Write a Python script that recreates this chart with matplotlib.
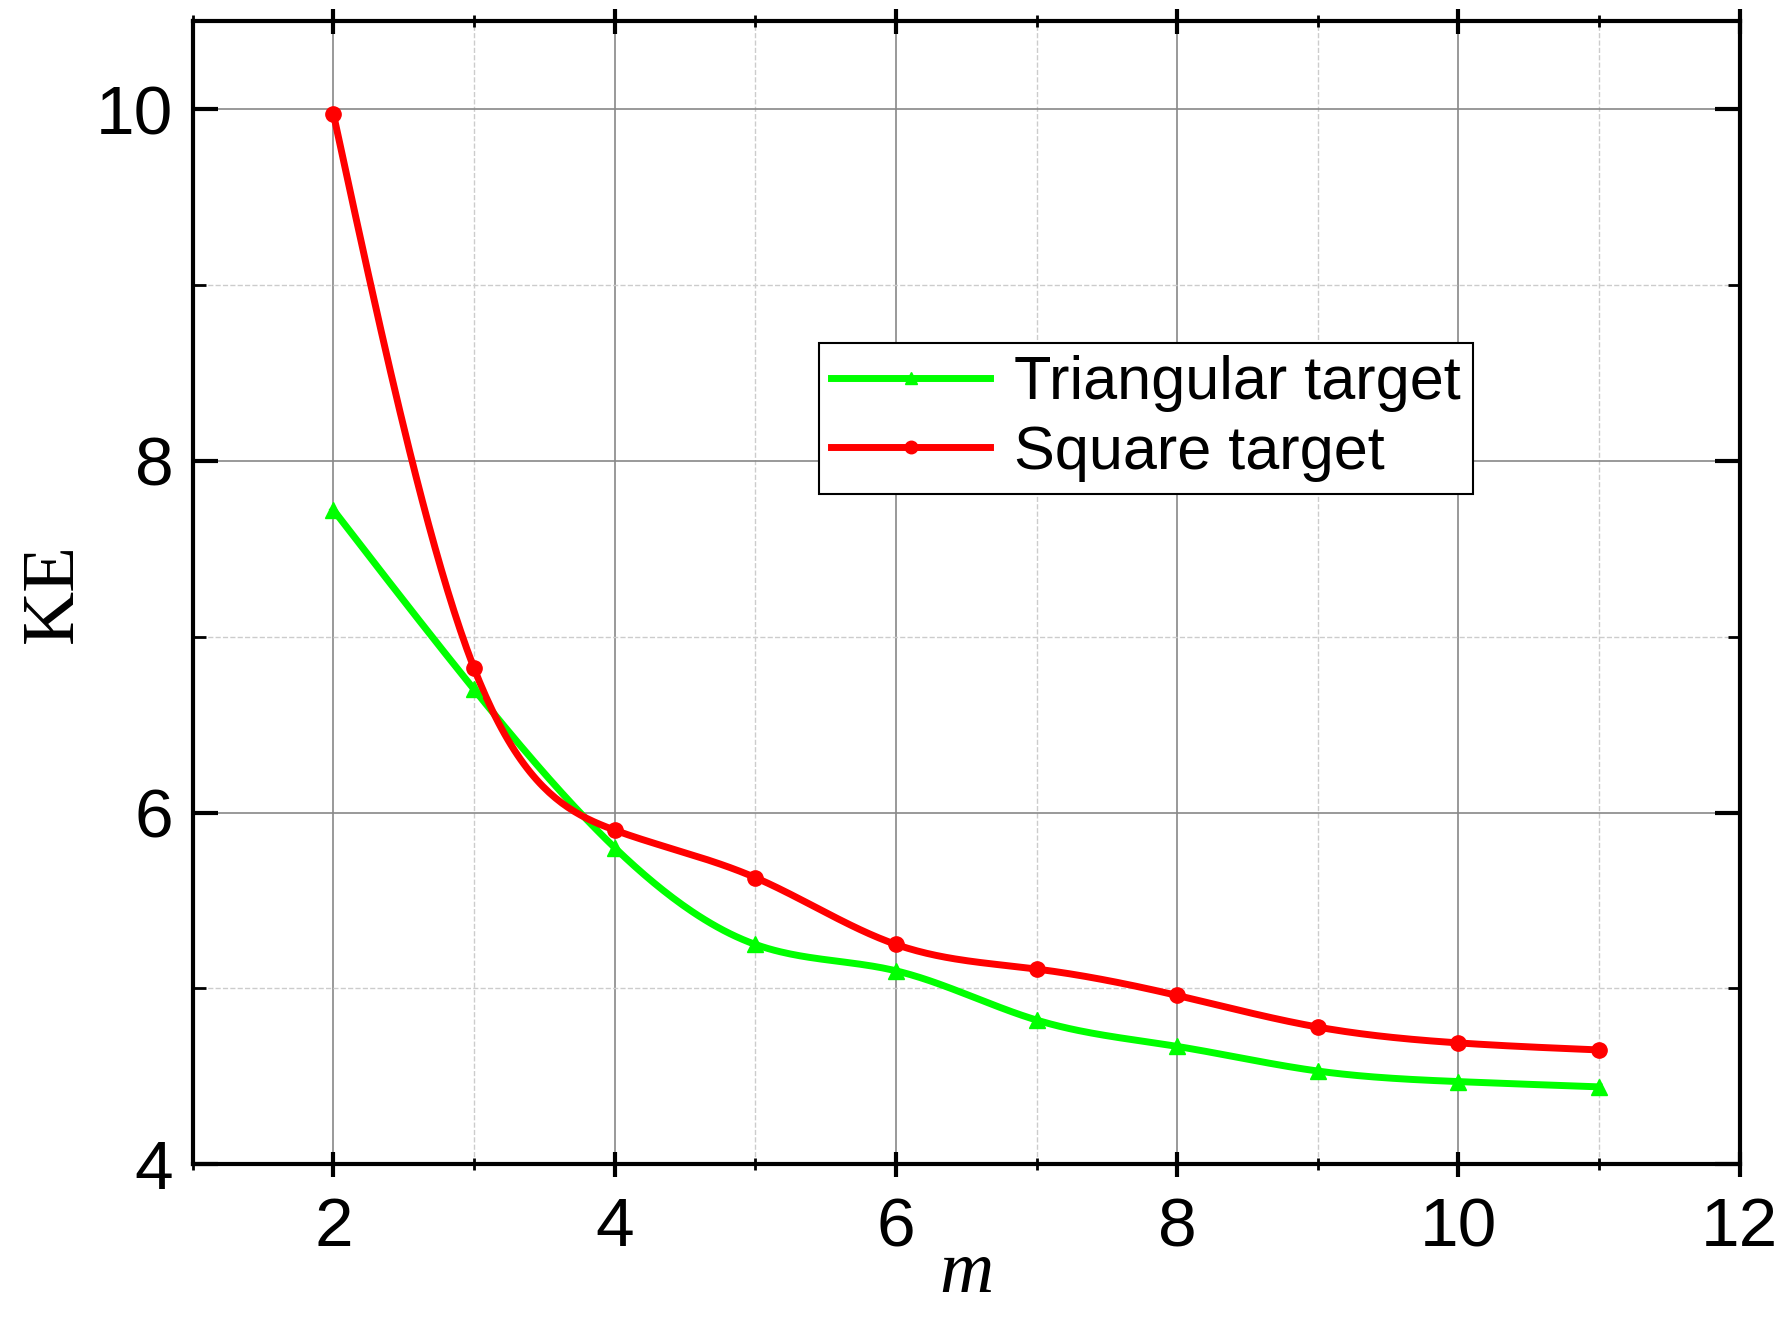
import numpy as np
import matplotlib
matplotlib.use("Agg")
import matplotlib.pyplot as plt

m = [2, 3, 4, 5, 6, 7, 8, 9, 10, 11]
tri = [7.72, 6.70, 5.80, 5.25, 5.10, 4.82, 4.67, 4.53, 4.47, 4.44]
sq = [9.97, 6.82, 5.90, 5.63, 5.25, 5.11, 4.96, 4.78, 4.69, 4.65]

def spline(x, y, n=400):
    x = np.asarray(x, float); y = np.asarray(y, float)
    k = len(x); h = np.diff(x)
    A = np.zeros((k, k)); b = np.zeros(k)
    A[0, 0] = A[-1, -1] = 1
    for i in range(1, k - 1):
        A[i, i - 1] = h[i - 1]; A[i, i] = 2 * (h[i - 1] + h[i]); A[i, i + 1] = h[i]
        b[i] = 6 * ((y[i + 1] - y[i]) / h[i] - (y[i] - y[i - 1]) / h[i - 1])
    M = np.linalg.solve(A, b)
    xs = np.linspace(x[0], x[-1], n)
    idx = np.clip(np.searchsorted(x, xs) - 1, 0, k - 2)
    x0, x1 = x[idx], x[idx + 1]; hh = x1 - x0
    ys = (M[idx] * (x1 - xs) ** 3 + M[idx + 1] * (xs - x0) ** 3) / (6 * hh) \
        + (y[idx] / hh - M[idx] * hh / 6) * (x1 - xs) + (y[idx + 1] / hh - M[idx + 1] * hh / 6) * (xs - x0)
    return xs, ys

fig = plt.figure(figsize=(17.86, 13.23), dpi=100)
ax = fig.add_axes([0.108, 0.12, 0.866, 0.864])

for yv, c, mk, lab in [(tri, '#00ff00', '^', 'Triangular target'), (sq, '#ff0000', 'o', 'Square target')]:
    xs, ys = spline(m, yv)
    ax.plot(xs, ys, color=c, lw=5, zorder=3)
    ax.plot(m, yv, ls='none', marker=mk, color=c, ms=11, zorder=4)
    ax.plot([], [], color=c, lw=5, marker=mk, ms=9, label=lab)

ax.set_xlim(1, 12); ax.set_ylim(4, 10.5)
ax.set_xticks(range(2, 13, 2)); ax.set_yticks([4, 6, 8, 10])
ax.set_xticks(range(1, 13), minor=True); ax.set_yticks([5, 7, 9], minor=True)
ax.grid(True, which='major', color='#888888', lw=1.2)
ax.grid(True, which='minor', color='#cccccc', lw=1, ls='--')
ax.tick_params(which='major', direction='in', length=18, width=3, top=True, right=True, labelsize=50, pad=14)
ax.tick_params(which='minor', direction='in', length=9, width=2, top=True, right=True)
ax.tick_params(axis='x', which='both', direction='inout')
for lbl in ax.get_xticklabels() + ax.get_yticklabels():
    lbl.set_fontfamily('Liberation Sans')
for s in ax.spines.values():
    s.set_linewidth(3)
ax.set_xlabel('m', fontsize=54, fontfamily='Liberation Serif', style='italic', labelpad=-14)
ax.set_ylabel('KE', fontsize=54, fontfamily='Liberation Serif', labelpad=6)
leg = ax.legend(loc='upper left', bbox_to_anchor=(0.385, 0.745), fancybox=False,
                edgecolor='black', framealpha=1, handlelength=2.6, borderpad=0.2,
                labelspacing=0.2, handletextpad=0.4,
                prop={'family': 'Liberation Sans', 'size': 44})
leg.get_frame().set_linewidth(1.5)
fig.savefig('out.png')
